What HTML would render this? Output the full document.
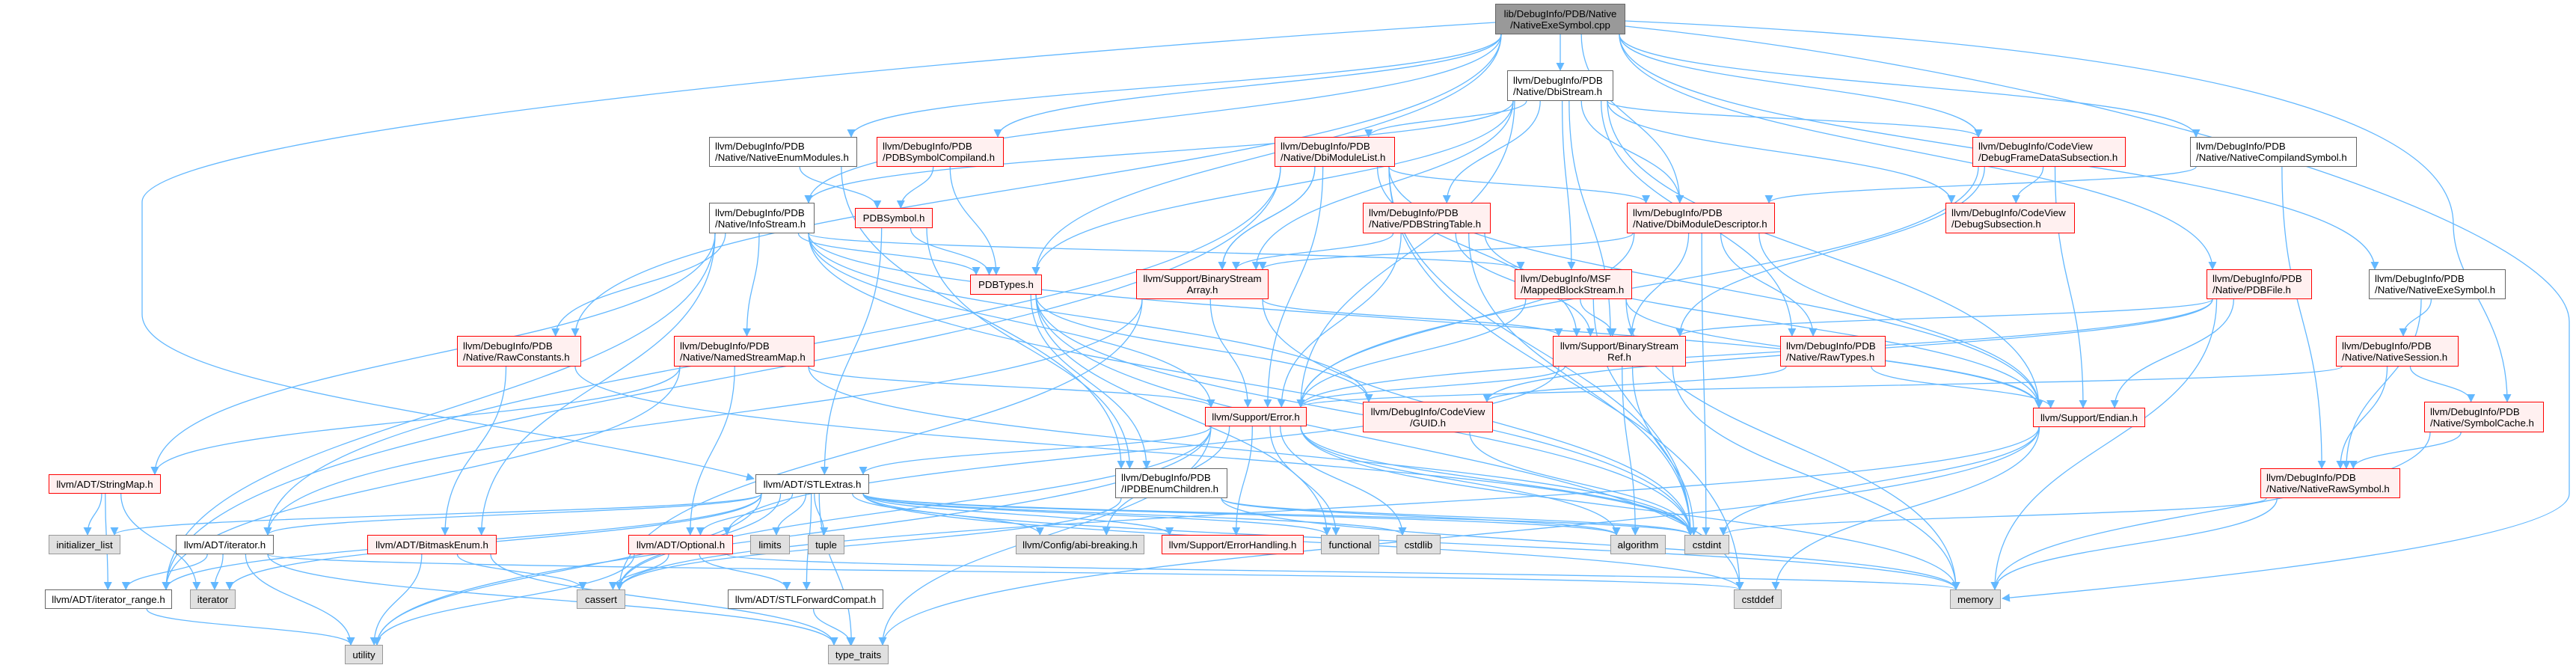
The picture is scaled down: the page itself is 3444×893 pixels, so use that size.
<!DOCTYPE html>
<html><head><meta charset="utf-8"><style>
html,body{margin:0;padding:0;background:#fff;}
#c{position:relative;width:3444px;height:893px;overflow:hidden;}
.n{position:absolute;box-sizing:border-box;font-family:"Liberation Sans",Arial,sans-serif;font-size:13.3px;line-height:15px;color:#000;white-space:nowrap;display:flex;flex-direction:column;justify-content:center;padding:0 7px;}
.w{background:#fff;border:1.5px solid #666;}
.r{background:#fff0f0;border:1.5px solid #f00;}
.g{background:#e0e0e0;border:1.5px solid #999;align-items:center;}
.root{background:#999;border:1.5px solid #666;align-items:center;text-align:center;}
.c1{align-items:center;}
svg{position:absolute;left:0;top:0;}
</style></head><body><div id="c">
<svg id="s" width="3444" height="893"><defs><marker id="a" markerWidth="11" markerHeight="11" refX="10" refY="5.5" orient="auto" markerUnits="userSpaceOnUse"><path d="M0,0 L11,5.5 L0,11 z" fill="#63b8ff"/></marker></defs>
<path d="M1999,30 C1200,80 190,180 190,270 L190,420 C190,520 700,560 1008,640" fill="none" stroke="#63b8ff" stroke-width="1.3" marker-end="url(#a)"/>
<path d="M2173,28 C2900,60 3280,150 3280,300 C3280,380 3352,420 3352,537" fill="none" stroke="#63b8ff" stroke-width="1.3" marker-end="url(#a)"/>
<path d="M2173,35 C2800,100 3435,300 3435,430 L3435,660 C3435,720 3000,770 2677,800" fill="none" stroke="#63b8ff" stroke-width="1.3" marker-end="url(#a)"/>
</svg>
<div class="n root" style="left:1999px;top:5px;width:174px;height:41px"><span>lib/DebugInfo/PDB/Native</span><span>/NativeExeSymbol.cpp</span></div>
<div class="n w" style="left:2015px;top:94px;width:142px;height:41px"><span>llvm/DebugInfo/PDB</span><span>/Native/DbiStream.h</span></div>
<div class="n w" style="left:948px;top:183px;width:198px;height:40px"><span>llvm/DebugInfo/PDB</span><span>/Native/NativeEnumModules.h</span></div>
<div class="n r" style="left:1172px;top:183px;width:170px;height:40px"><span>llvm/DebugInfo/PDB</span><span>/PDBSymbolCompiland.h</span></div>
<div class="n r" style="left:1704px;top:183px;width:161px;height:40px"><span>llvm/DebugInfo/PDB</span><span>/Native/DbiModuleList.h</span></div>
<div class="n r" style="left:2637px;top:183px;width:205px;height:40px"><span>llvm/DebugInfo/CodeView</span><span>/DebugFrameDataSubsection.h</span></div>
<div class="n w" style="left:2928px;top:183px;width:223px;height:40px"><span>llvm/DebugInfo/PDB</span><span>/Native/NativeCompilandSymbol.h</span></div>
<div class="n w" style="left:948px;top:271px;width:141px;height:41px"><span>llvm/DebugInfo/PDB</span><span>/Native/InfoStream.h</span></div>
<div class="n r c1" style="left:1143px;top:278px;width:104px;height:27px"><span>PDBSymbol.h</span></div>
<div class="n r" style="left:1822px;top:271px;width:171px;height:41px"><span>llvm/DebugInfo/PDB</span><span>/Native/PDBStringTable.h</span></div>
<div class="n r" style="left:2175px;top:271px;width:198px;height:41px"><span>llvm/DebugInfo/PDB</span><span>/Native/DbiModuleDescriptor.h</span></div>
<div class="n r" style="left:2601px;top:271px;width:173px;height:41px"><span>llvm/DebugInfo/CodeView</span><span>/DebugSubsection.h</span></div>
<div class="n r c1" style="left:1297px;top:367px;width:96px;height:27px"><span>PDBTypes.h</span></div>
<div class="n r c1" style="left:1519px;top:360px;width:177px;height:40px;text-align:center"><span>llvm/Support/BinaryStream</span><span>Array.h</span></div>
<div class="n r" style="left:2025px;top:360px;width:157px;height:40px"><span>llvm/DebugInfo/MSF</span><span>/MappedBlockStream.h</span></div>
<div class="n r" style="left:2950px;top:360px;width:141px;height:40px"><span>llvm/DebugInfo/PDB</span><span>/Native/PDBFile.h</span></div>
<div class="n w" style="left:3167px;top:360px;width:183px;height:40px"><span>llvm/DebugInfo/PDB</span><span>/Native/NativeExeSymbol.h</span></div>
<div class="n r" style="left:611px;top:449px;width:166px;height:41px"><span>llvm/DebugInfo/PDB</span><span>/Native/RawConstants.h</span></div>
<div class="n r" style="left:901px;top:449px;width:188px;height:41px"><span>llvm/DebugInfo/PDB</span><span>/Native/NamedStreamMap.h</span></div>
<div class="n r c1" style="left:2076px;top:449px;width:178px;height:41px;text-align:center"><span>llvm/Support/BinaryStream</span><span>Ref.h</span></div>
<div class="n r" style="left:2380px;top:449px;width:141px;height:41px"><span>llvm/DebugInfo/PDB</span><span>/Native/RawTypes.h</span></div>
<div class="n r" style="left:3123px;top:449px;width:164px;height:41px"><span>llvm/DebugInfo/PDB</span><span>/Native/NativeSession.h</span></div>
<div class="n r c1" style="left:1611px;top:544px;width:136px;height:26px"><span>llvm/Support/Error.h</span></div>
<div class="n r" style="left:1822px;top:537px;width:174px;height:41px;align-items:center;text-align:center"><span>llvm/DebugInfo/CodeView</span><span>/GUID.h</span></div>
<div class="n r c1" style="left:2718px;top:545px;width:150px;height:26px"><span>llvm/Support/Endian.h</span></div>
<div class="n r" style="left:3241px;top:537px;width:160px;height:41px"><span>llvm/DebugInfo/PDB</span><span>/Native/SymbolCache.h</span></div>
<div class="n r c1" style="left:65px;top:634px;width:150px;height:26px"><span>llvm/ADT/StringMap.h</span></div>
<div class="n w c1" style="left:1010px;top:634px;width:152px;height:26px"><span>llvm/ADT/STLExtras.h</span></div>
<div class="n w" style="left:1491px;top:626px;width:150px;height:40px"><span>llvm/DebugInfo/PDB</span><span>/IPDBEnumChildren.h</span></div>
<div class="n r" style="left:3022px;top:626px;width:187px;height:40px"><span>llvm/DebugInfo/PDB</span><span>/Native/NativeRawSymbol.h</span></div>
<div class="n g" style="left:65px;top:715px;width:96px;height:26px"><span>initializer_list</span></div>
<div class="n w c1" style="left:235px;top:715px;width:131px;height:26px"><span>llvm/ADT/iterator.h</span></div>
<div class="n r c1" style="left:491px;top:715px;width:173px;height:26px"><span>llvm/ADT/BitmaskEnum.h</span></div>
<div class="n r c1" style="left:840px;top:715px;width:140px;height:26px"><span>llvm/ADT/Optional.h</span></div>
<div class="n g" style="left:1003px;top:715px;width:53px;height:26px"><span>limits</span></div>
<div class="n g" style="left:1080px;top:715px;width:49px;height:26px"><span>tuple</span></div>
<div class="n g" style="left:1358px;top:715px;width:172px;height:26px"><span>llvm/Config/abi-breaking.h</span></div>
<div class="n r c1" style="left:1553px;top:715px;width:190px;height:26px"><span>llvm/Support/ErrorHandling.h</span></div>
<div class="n g" style="left:1766px;top:715px;width:78px;height:26px"><span>functional</span></div>
<div class="n g" style="left:1867px;top:715px;width:59px;height:26px"><span>cstdlib</span></div>
<div class="n g" style="left:2153px;top:715px;width:74px;height:26px"><span>algorithm</span></div>
<div class="n g" style="left:2252px;top:715px;width:60px;height:26px"><span>cstdint</span></div>
<div class="n w c1" style="left:60px;top:788px;width:170px;height:26px"><span>llvm/ADT/iterator_range.h</span></div>
<div class="n g" style="left:254px;top:788px;width:61px;height:26px"><span>iterator</span></div>
<div class="n g" style="left:771px;top:788px;width:65px;height:26px"><span>cassert</span></div>
<div class="n w c1" style="left:973px;top:788px;width:208px;height:26px"><span>llvm/ADT/STLForwardCompat.h</span></div>
<div class="n g" style="left:2318px;top:788px;width:64px;height:26px"><span>cstddef</span></div>
<div class="n g" style="left:2607px;top:788px;width:68px;height:26px"><span>memory</span></div>
<div class="n g" style="left:461px;top:862px;width:51px;height:26px"><span>utility</span></div>
<div class="n g" style="left:1107px;top:862px;width:81px;height:26px"><span>type_traits</span></div>
</div>
<script>
var N={root:[1999,5,174,41],dbi:[2015,94,142,41],enm:[948,183,198,40],cmp:[1172,183,170,40],dml:[1704,183,161,40],dfd:[2637,183,205,40],ncs:[2928,183,223,40],inf:[948,271,141,41],sym:[1143,278,104,27],pst:[1822,271,171,41],dmd:[2175,271,198,41],dsub:[2601,271,173,41],typ:[1297,367,96,27],bsa:[1519,360,177,40],mbs:[2025,360,157,40],pfile:[2950,360,141,40],nes:[3167,360,183,40],rc:[611,449,166,41],nsm:[901,449,188,41],bsr:[2076,449,178,41],rt:[2380,449,141,41],nss:[3123,449,164,41],err:[1611,544,136,26],guid:[1822,537,174,41],end:[2718,545,150,26],sc:[3241,537,160,41],smap:[65,634,150,26],stl:[1010,634,152,26],ipdb:[1491,626,150,40],nrs:[3022,626,187,40],il:[65,715,96,26],ith:[235,715,131,26],bme:[491,715,173,26],opt:[840,715,140,26],lim:[1003,715,53,26],tup:[1080,715,49,26],abi:[1358,715,172,26],eh:[1553,715,190,26],fun:[1766,715,78,26],csl:[1867,715,59,26],alg:[2153,715,74,26],ci:[2252,715,60,26],itr:[60,788,170,26],it:[254,788,61,26],ca:[771,788,65,26],sfc:[973,788,208,26],cd:[2318,788,64,26],mem:[2607,788,68,26],ut:[461,862,51,26],tt:[1107,862,81,26]};
var E={root:"dbi enm cmp inf rc dfd ncs pfile nes typ dmd",dbi:"dml pst mbs dmd dfd dsub bsa bsr err end rt typ inf",enm:"sym ipdb",cmp:"sym typ",sym:"typ stl ipdb",dml:"bsa bsr dmd err end ith itr cd ci bsa",inf:"nsm rc bme typ err smap itr mbs end guid ci",pst:"bsa bsr err end ci",dmd:"bsa bsr err rt ci end",typ:"ipdb guid cd ci fun",bsa:"bsr err ith ca ci",mbs:"bsr err ci mem end",bsr:"err ci mem alg opt",rc:"bme ci",nsm:"smap opt err itr ci",err:"stl abi eh fun csl alg ci mem ca tt ut",guid:"ci",ipdb:"alg ci mem ca",rt:"guid end",end:"ci cd tt ca",stl:"il ith opt lim tup itr it ca sfc ut tt abi eh fun csl alg ci cd mem",smap:"il itr it",ith:"itr it ut tt cd",bme:"ca ut tt",opt:"ca sfc ut mem",sfc:"tt",itr:"ut",pfile:"bsr err end mem guid",nes:"nss nrs",nss:"err nrs sc",sc:"nrs mem",nrs:"ci mem",ncs:"dmd nrs",dfd:"dsub end err bsr"};
var s=document.getElementById('s'),h='';
function cx(b){return b[0]+b[2]/2}
for(var k in E){var a=N[k];E[k].split(' ').forEach(function(t){var b=N[t];if(!b)return;
var sx=cx(a)+Math.max(-a[2]/2+8,Math.min(a[2]/2-8,(cx(b)-cx(a))*0.15)),sy=a[1]+a[3];
var ex=cx(b)+Math.max(-b[2]/2+8,Math.min(b[2]/2-8,(cx(a)-cx(b))*0.15)),ey=b[1];
var d;
if(ey<sy+5){
 var rgt=cx(b)>cx(a);sx=rgt?a[0]+a[2]:a[0];sy=a[1]+a[3]/2;ex=rgt?b[0]:b[0]+b[2];ey=b[1]+b[3]/2;
 d='M'+sx+','+sy+' C'+(sx+(ex-sx)/2)+','+sy+' '+(sx+(ex-sx)/2)+','+ey+' '+ex+','+ey;
}else{var dy=(ey-sy);d='M'+sx+','+sy+' C'+sx+','+(sy+dy*0.5)+' '+ex+','+(ey-dy*0.5)+' '+ex+','+ey;}
h+='<path d="'+d+'" fill="none" stroke="#63b8ff" stroke-width="1.3" marker-end="url(#a)"/>';});}
s.insertAdjacentHTML('beforeend',h);
</script>
</body></html>
